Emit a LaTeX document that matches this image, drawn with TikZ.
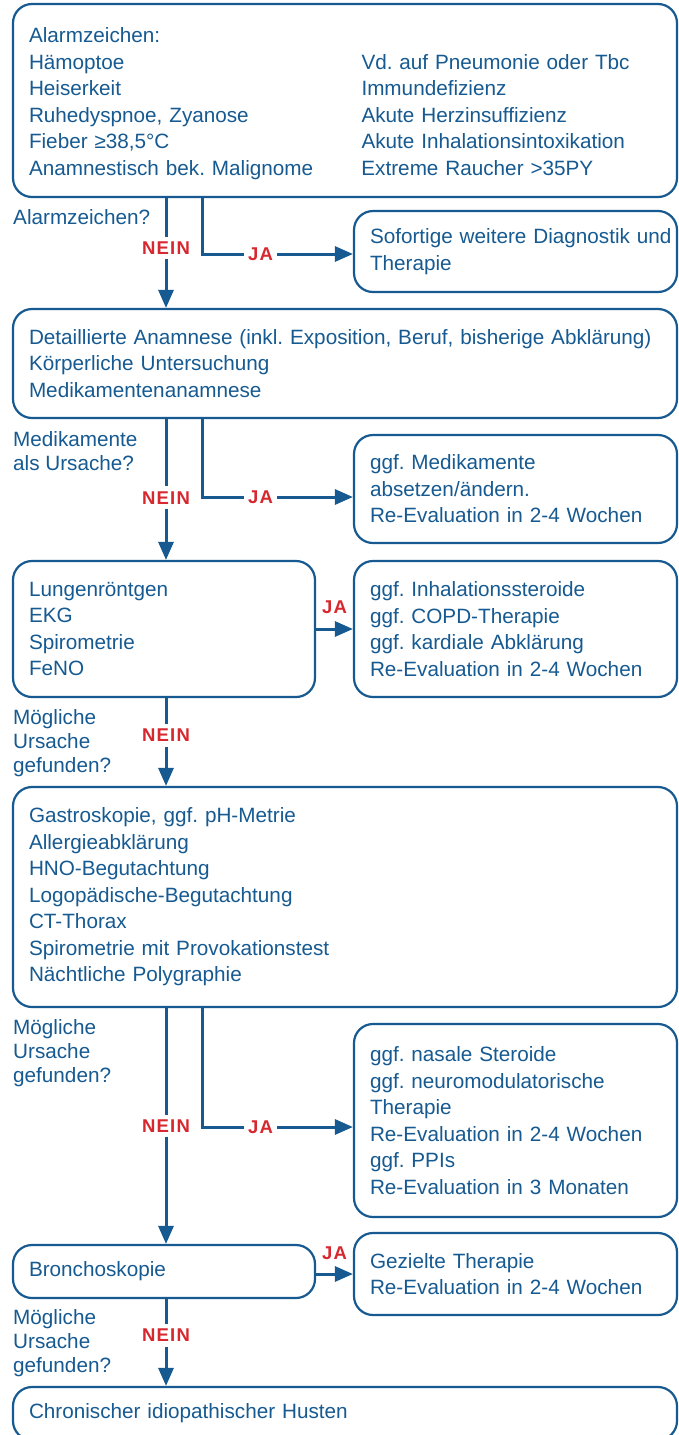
\documentclass[tikz,border=0pt]{standalone}
\usepackage{fontspec}
\setmainfont{Liberation Sans}
\usetikzlibrary{arrows.meta}
\setlength{\parindent}{0pt}
\frenchspacing
\definecolor{fblue}{HTML}{165A91}
\definecolor{fred}{HTML}{D7282F}
\newcommand{\neinlbl}{N\kern1.2pt E\kern1.2pt I\kern1.2pt N}
\newcommand{\jalbl}{J\kern1.2pt A}
\tikzset{
  box/.style={draw=fblue, line width=2.2pt, rounded corners=19pt, text=fblue,
    font=\fontsize{20.7}{26.5}\selectfont\frenchspacing, align=left, inner xsep=16pt, inner ysep=0pt, anchor=center},
  wide/.style={box, text width=632pt},
  lhalf/.style={box, text width=270pt},
  rhalf/.style={box, text width=291pt},
  qlabel/.style={text=fblue, font=\fontsize{20.7}{24}\selectfont, align=left, inner sep=0pt, anchor=west},
  conn/.style={draw=fblue, line width=3pt},
  arr/.style={conn, -{Triangle[length=18pt,width=15pt]}},
  nein/.style={text=fred, font=\fontsize{18.5}{18.5}\selectfont\bfseries, fill=white, inner xsep=4pt, inner ysep=5pt},
  ja/.style={nein},
  jaup/.style={text=fred, font=\fontsize{18.5}{18.5}\selectfont\bfseries, inner sep=0pt}
}
\begin{document}
\begin{tikzpicture}[x=1pt,y=-1pt]
\useasboundingbox (0,0) rectangle (679,1435);
\clip (0,0) rectangle (679,1435);
\fill[white] (0,0) rectangle (679,1435);

% boxes
\node[wide, minimum height=193pt] (alarm) at (345,100.5) {%
\raisebox{-3pt}[\height][\depth]{\begin{tabular}{@{}p{332.5pt}@{}l@{}}
Alarmzeichen: & \\
Hämoptoe & Vd. auf Pneumonie oder Tbc\\
Heiserkeit & Immundefizienz\\
Ruhedyspnoe, Zyanose & Akute Herzinsuffizienz\\
Fieber ≥38,5°C & Akute Inhalationsintoxikation\\
Anamnestisch bek. Malignome & Extreme Raucher >35PY
\end{tabular}}};
\node[rhalf, minimum height=81pt] (sof) at (515.5,251.5) {\mbox{Sofortige weitere Diagnostik und}\\Therapie};
\node[wide, minimum height=109pt] (anam) at (345,363.5) {Detaillierte Anamnese (inkl. Exposition, Beruf, bisherige Abklärung)\\Körperliche Untersuchung\\Medikamentenanamnese};
\node[rhalf, minimum height=108pt] (med) at (515.5,489) {ggf. Medikamente\\absetzen/ändern.\\Re-Evaluation in 2-4 Wochen};
\node[lhalf, minimum height=136pt] (lung) at (164,629) {Lungenröntgen\\EKG\\Spirometrie\\FeNO};
\node[rhalf, minimum height=136pt] (inh) at (515.5,629) {ggf. Inhalationssteroide\\ggf. COPD-Therapie\\ggf. kardiale Abklärung\\Re-Evaluation in 2-4 Wochen};
\node[wide, minimum height=220pt] (gastro) at (345,897) {Gastroskopie, ggf. pH-Metrie\\Allergieabklärung\\HNO-Begutachtung\\Logopädische-Begutachtung\\CT-Thorax\\Spirometrie mit Provokationstest\\Nächtliche Polygraphie};
\node[rhalf, minimum height=193pt] (nas) at (515.5,1120.5) {ggf. nasale Steroide\\ggf. neuromodulatorische\\Therapie\\Re-Evaluation in 2-4 Wochen\\ggf. PPIs\\Re-Evaluation in 3 Monaten};
\node[lhalf, minimum height=53pt] (bron) at (164,1271.5) {Bronchoskopie};
\node[rhalf, minimum height=82pt] (gez) at (515.5,1274) {Gezielte Therapie\\Re-Evaluation in 2-4 Wochen};
\node[wide, minimum height=53pt] (chr) at (345,1413.5) {Chronischer idiopathischer Husten};

% question labels
\node[qlabel] (q1) at (13,217) {Alarmzeichen?};
\node[qlabel] (q2) at (13,451) {Medikamente\\als Ursache?};
\node[qlabel] (q3) at (13,743) {Mögliche\\Ursache\\gefunden?};
\node[qlabel] (q4) at (13,1053) {Mögliche\\Ursache\\gefunden?};
\node[qlabel] (q5) at (13,1343) {Mögliche\\Ursache\\gefunden?};

% connectors
\coordinate (xm) at (166,0);
\coordinate (xj) at (202,0);
\draw[arr] (alarm.south -| xm) -- node[nein,pos=0.455]{\neinlbl} (anam.north -| xm);
\draw[arr] (alarm.south -| xj) |- node[ja,pos=0.694]{\jalbl} ([yshift=-2.5pt]sof.west);
\draw[arr] (anam.south -| xm) -- node[nein,pos=0.559]{\neinlbl} (lung.north -| xm);
\draw[arr] (anam.south -| xj) |- node[ja,pos=0.694]{\jalbl} ([yshift=-8pt]med.west);
\draw[arr] (lung.east) -- node[jaup,midway,yshift=22pt]{\jalbl} (inh.west);
\draw[arr] (lung.south -| xm) -- node[nein,pos=0.422]{\neinlbl} (gastro.north -| xm);
\draw[arr] (gastro.south -| xm) -- node[nein,pos=0.5]{\neinlbl} (bron.north -| xm);
\draw[arr] (gastro.south -| xj) |- node[ja,pos=0.694]{\jalbl} ([yshift=-6.5pt]nas.west);
\draw[arr] (bron.east |- gez.west) -- node[jaup,midway,yshift=21pt]{\jalbl} (gez.west);
\draw[arr] (bron.south -| xm) -- node[nein,pos=0.416]{\neinlbl} (chr.north -| xm);
\end{tikzpicture}
\end{document}
